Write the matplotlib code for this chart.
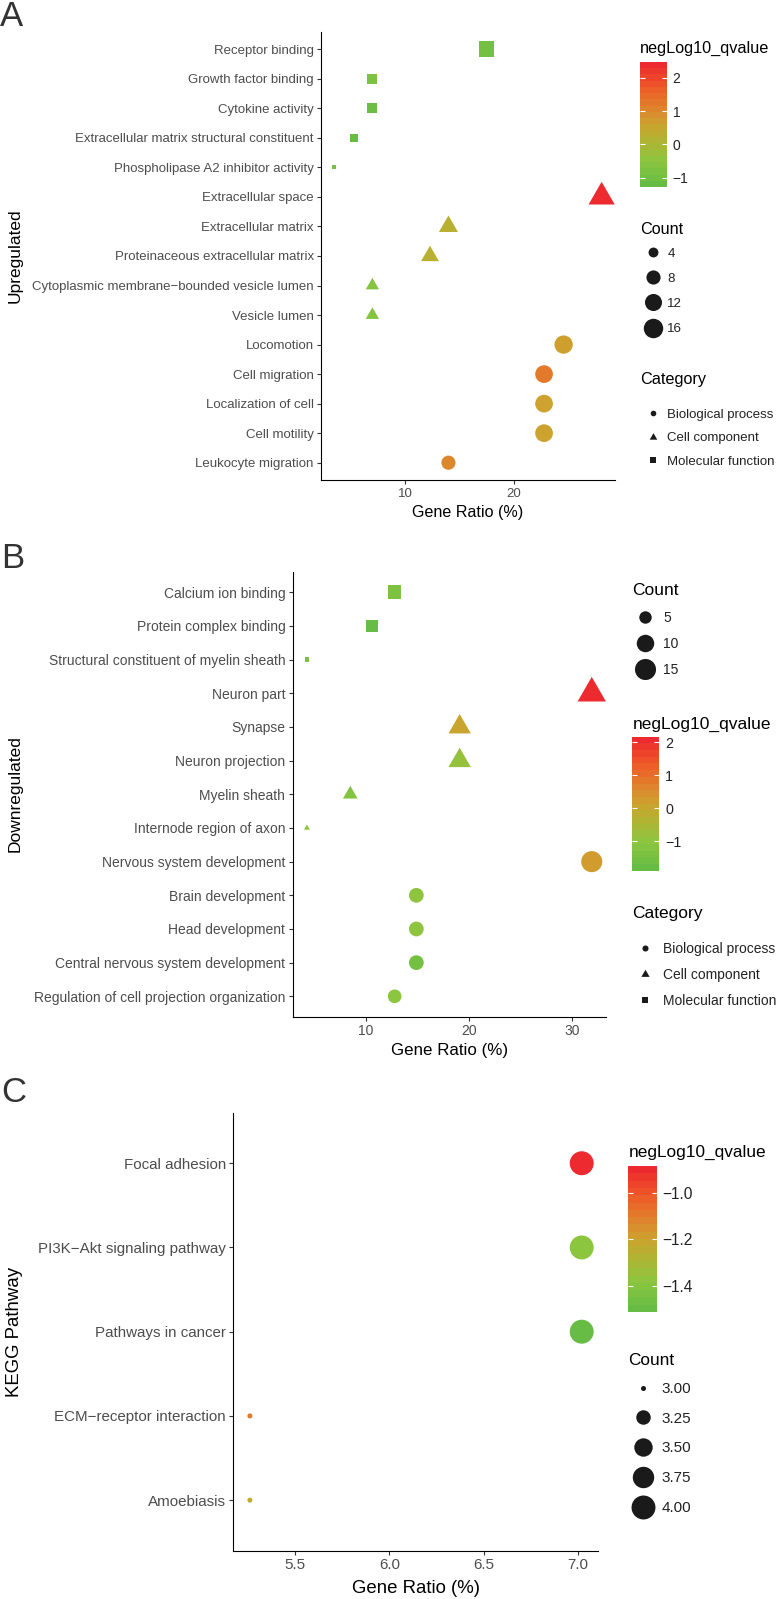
import numpy as np
import matplotlib
matplotlib.use("Agg")
import matplotlib.pyplot as plt
import matplotlib.colors as mcolors
from matplotlib import ticker
from matplotlib.lines import Line2D

plt.rcParams['font.family'] = ['Liberation Sans', 'DejaVu Sans']

# Panel A - upregulated GO terms
up_terms = ["Receptor binding", "Growth factor binding", "Cytokine activity",
            "Extracellular matrix structural constituent", "Phospholipase A2 inhibitor activity",
            "Extracellular space", "Extracellular matrix", "Proteinaceous extracellular matrix",
            "Cytoplasmic membrane\u2212bounded vesicle lumen", "Vesicle lumen",
            "Locomotion", "Cell migration", "Localization of cell", "Cell motility", "Leukocyte migration"]
up_category = ["MF"] * 5 + ["CC"] * 5 + ["BP"] * 5
up_ratio = [17.5, 7.0, 7.0, 5.3, 3.5, 28.1, 14.0, 12.3, 7.0, 7.0, 24.6, 22.8, 22.8, 22.8, 14.0]
up_count = [10, 4, 4, 3, 2, 16, 8, 7, 4, 4, 14, 13, 13, 13, 8]
up_qvalue = [-1.0, -0.85, -1.2, -1.29, -0.9, 2.48, 0.2, 0.2, -0.7, -0.7, 0.65, 1.27, 0.6, 0.6, 1.05]

# Panel B - downregulated GO terms
down_terms = ["Calcium ion binding", "Protein complex binding", "Structural constituent of myelin sheath",
              "Neuron part", "Synapse", "Neuron projection", "Myelin sheath", "Internode region of axon",
              "Nervous system development", "Brain development", "Head development",
              "Central nervous system development", "Regulation of cell projection organization"]
down_category = ["MF"] * 3 + ["CC"] * 5 + ["BP"] * 5
down_ratio = [12.8, 10.6, 4.3, 31.9, 19.1, 19.1, 8.5, 4.3, 31.9, 14.9, 14.9, 14.9, 12.8]
down_count = [6, 5, 2, 15, 9, 9, 4, 2, 15, 7, 7, 7, 6]
down_qvalue = [-1.4, -1.9, -1.5, 2.17, 0.05, -0.9, -1.3, -1.1, 0.25, -1.05, -1.05, -1.6, -1.1]

# Panel C - KEGG pathways
kegg_terms = ["Focal adhesion", "PI3K\u2212Akt signaling pathway", "Pathways in cancer",
              "ECM\u2212receptor interaction", "Amoebiasis"]
kegg_ratio = [7.02, 7.02, 7.02, 5.26, 5.26]
kegg_count = [4, 4, 4, 3, 3]
kegg_qvalue = [-0.885, -1.39, -1.513, -1.09, -1.25]

up_count_breaks = [4, 8, 12, 16]
down_count_breaks = [5, 10, 15]
kegg_count_breaks = [3.0, 3.25, 3.5, 3.75, 4.0]
category_labels = ["Biological process", "Cell component", "Molecular function"]

W, H = 777, 1599
TRIANGLE = [(0, 1.555), (1.347, -0.778), (-1.347, -0.778), (0, 1.555)]
shapes = {"BP": ("o", 1.0), "CC": (TRIANGLE, 1.555), "MF": ("s", 1.0)}

# green -> gold -> red gradient
cmap = mcolors.LinearSegmentedColormap.from_list("qval", [
    (0.0, "#67BC45"), (0.2, "#8DC63F"), (0.4, "#B8B030"), (0.5, "#CDA22E"),
    (0.65, "#E0802C"), (0.8, "#EE5C28"), (1.0, "#EC2A2F")])


def px_box(left, top, right, bottom):
    return [left / W, 1 - bottom / H, (right - left) / W, (bottom - top) / H]


def marker_diam(c, cmin, cmax, scale):
    # scale_size area palette, range 1..6, then to points
    gg = 1 + 5 * np.sqrt((np.asarray(c, float) - cmin) / (cmax - cmin))
    return (gg * 2.845 + 0.94) * scale


fig = plt.figure(figsize=(W / 100, H / 100), dpi=100)


def draw_panel(box, terms, cats, ratio, count, qval, xstep, scale, fs_tick, fs_title, lpad):
    ax = fig.add_axes(px_box(*box))
    n = len(terms)
    ypos = n - 1 - np.arange(n)
    cats = np.array(cats)
    ratio = np.array(ratio)
    qval = np.array(qval)
    norm = mcolors.Normalize(qval.min(), qval.max())
    diam = marker_diam(count, min(count), max(count), scale)
    for cat, (marker, k) in shapes.items():
        m = cats == cat
        if m.any():
            ax.scatter(ratio[m], ypos[m], s=(diam[m] * k) ** 2, c=qval[m], cmap=cmap, norm=norm,
                       marker=marker, linewidths=0, zorder=3)
    ax.margins(x=0.05)
    ax.set_ylim(-0.6, n - 0.4)
    ax.set_yticks(ypos)
    ax.set_yticklabels(terms)
    ax.xaxis.set_major_locator(ticker.MultipleLocator(xstep))
    for s in ["top", "right"]:
        ax.spines[s].set_visible(False)
    for s in ["left", "bottom"]:
        ax.spines[s].set_linewidth(0.8)
    ax.tick_params(length=3.1, width=0.8, color="#333333", labelcolor="#4D4D4D",
                   labelsize=fs_tick, pad=2.2)
    ax.set_xlabel("Gene Ratio (%)", fontsize=fs_title, labelpad=lpad)
    return norm


def draw_colorbar(norm, box, title, title_base, step, fs_title, fs_lab):
    cax = fig.add_axes(px_box(*box))
    sm = plt.cm.ScalarMappable(norm=norm, cmap=cmap.resampled(20))
    cb = fig.colorbar(sm, cax=cax)
    cb.outline.set_visible(False)
    cb.locator = ticker.MultipleLocator(step)
    cax.tick_params(axis="y", direction="in", left=True, right=True, labelleft=False,
                    labelright=True, length=3.8, width=0.8, color="white",
                    labelsize=fs_lab, labelcolor="#222222", pad=4.3)
    fig.text(box[0] / W, 1 - title_base / H, title, fontsize=fs_title, va="baseline", ha="left")


def add_legend(handles, labels, title, left, title_base, top, fs, fs_title, spacing, hlen, tpad):
    fig.text(left / W, 1 - title_base / H, title, fontsize=fs_title, va="baseline", ha="left")
    leg = fig.legend(handles, labels, loc="upper left",
                     bbox_to_anchor=(left / W, 1 - top / H), frameon=False, fontsize=fs,
                     labelspacing=spacing, handlelength=hlen,
                     handletextpad=tpad, borderpad=0, borderaxespad=0)
    for t in leg.get_texts():
        t.set_color("#222222")
    return leg


def count_handles(breaks, counts, scale):
    d = marker_diam(breaks, min(counts), max(counts), scale)
    return [Line2D([], [], marker="o", ls="", ms=v, color="#1A1A1A", mew=0) for v in d]


def category_handles(scale):
    d = (1.5 * 2.845 + 0.94) * scale
    return [Line2D([], [], marker=shapes[c][0], ls="", ms=d * shapes[c][1], color="#1A1A1A", mew=0)
            for c in ["BP", "CC", "MF"]]


# --- Panel A ---
sa = 1.08 * 0.72
norm_a = draw_panel((321, 31.6, 615, 480.4), up_terms, up_category, up_ratio, up_count, up_qvalue,
                    10, sa, 9.5, 11.6, 3.5)
draw_colorbar(norm_a, (640, 61.7, 666.7, 187.3), "negLog10_qvalue", 53.3, 1, 11.7, 10)
add_legend(count_handles(up_count_breaks, up_count, sa), [str(b) for b in up_count_breaks], "Count",
           640, 234, 247.5, 9.6, 11.7, 0.96, 1.9, 0.15)
add_legend(category_handles(sa), category_labels, "Category",
           640, 384.3, 408.5, 9.5, 11.7, 0.85, 1.9, 0.15)
fig.text(15 / W, 1 - 256 / H, "Upregulated", rotation=90, fontsize=12.5, ha="center", va="center")
fig.text(0, 1, "A", fontsize=25, color="#333333", ha="left", va="top")

# --- Panel B ---
sb = 1.17 * 0.72
norm_b = draw_panel((292.7, 572.1, 606, 1016.5), down_terms, down_category, down_ratio, down_count,
                    down_qvalue, 10, sb, 10, 12.2, 3.5)
draw_colorbar(norm_b, (632.3, 736.7, 659.3, 870.7), "negLog10_qvalue", 729.3, 1, 12.5, 10.3)
add_legend(count_handles(down_count_breaks, down_count, sb), [str(b) for b in down_count_breaks],
           "Count", 632.3, 595, 610.6, 10, 12.5, 0.885, 1.83, 0.4)
add_legend(category_handles(sb), category_labels, "Category",
           632.3, 918.3, 941.6, 10, 12.5, 0.885, 1.83, 0.4)
fig.text(15 / W, 1 - 794 / H, "Downregulated", rotation=90, fontsize=12.5, ha="center", va="center")
fig.text(1 / W, 1 - 542 / H, "B", fontsize=25, color="#333333", ha="left", va="top")

# --- Panel C ---
sc = 1.33 * 0.72
norm_c = draw_panel((233.3, 1112.7, 598.3, 1550.7), kegg_terms, ["BP"] * len(kegg_terms), kegg_ratio,
                    kegg_count, kegg_qvalue, 0.5, sc, 10.9, 13.4, 6)
draw_colorbar(norm_c, (628.3, 1166, 656.7, 1312), "negLog10_qvalue", 1157.3, 0.2, 12.4, 11.2)
add_legend(count_handles(kegg_count_breaks, kegg_count, sc), ["%.2f" % b for b in kegg_count_breaks],
           "Count", 628.3, 1365, 1382, 11, 12.4, 1.03, 1.9, 0.3)
fig.text(15 / W, 1 - 1331.7 / H, "KEGG Pathway", rotation=90, fontsize=13.4, ha="center", va="center")
fig.text(1 / W, 1 - 1076 / H, "C", fontsize=25, color="#333333", ha="left", va="top")

fig.savefig("out.png", dpi=100)
